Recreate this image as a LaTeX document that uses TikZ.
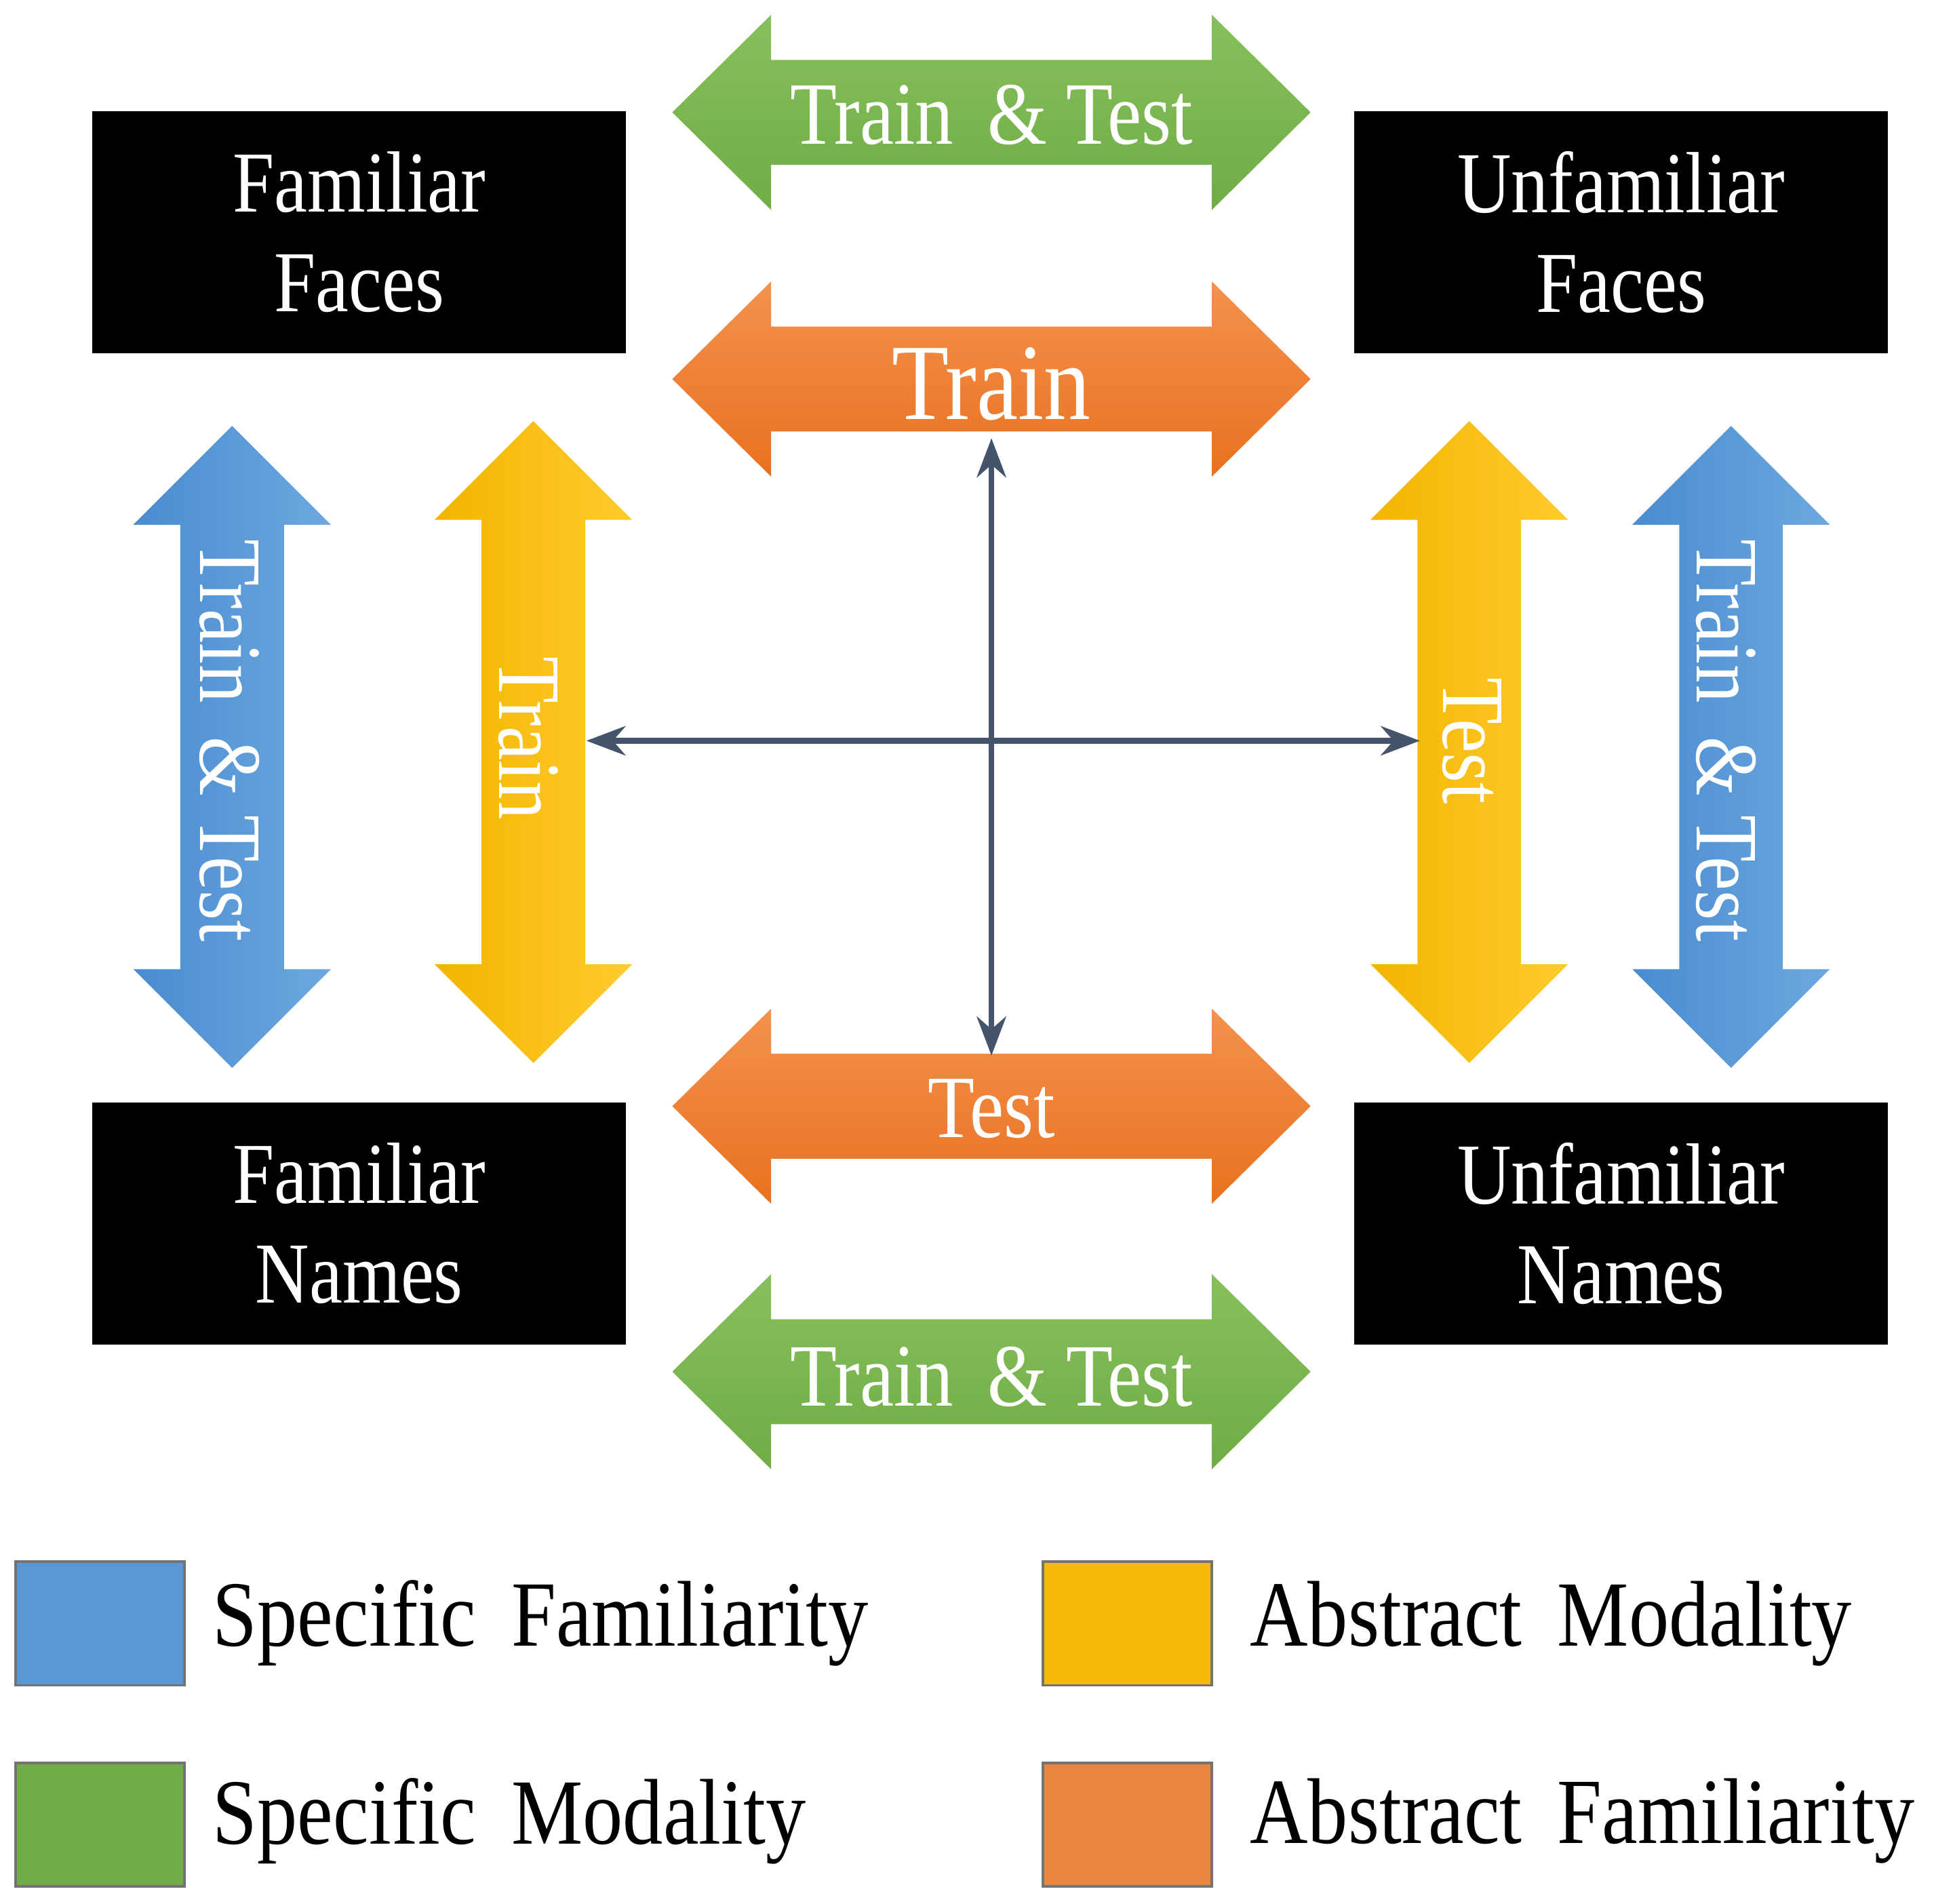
\documentclass[tikz,border=0pt]{standalone}
\usepackage{fontspec}
\setmainfont{Liberation Serif}[FakeStretch=0.86]
\usetikzlibrary{arrows.meta}
\definecolor{gA}{HTML}{70AD47}\definecolor{gB}{HTML}{86C05A}
\definecolor{oA}{HTML}{E8711F}\definecolor{oB}{HTML}{F4924E}
\definecolor{yA}{HTML}{F2B500}\definecolor{yB}{HTML}{FFCB2E}
\definecolor{bA}{HTML}{4A8CD0}\definecolor{bB}{HTML}{6DA8DF}
\definecolor{cross}{HTML}{44546A}
\newcommand\harr[3]{\shade[#3] (#1-258.5,#2) -- ++(80,-79) -- ++(0,36.5) -- ++(357,0) -- ++(0,-36.5) -- ++(80,79) -- ++(-80,79) -- ++(0,-36.5) -- ++(-357,0) -- ++(0,36.5) -- cycle;}
\newcommand\varr[3]{\shade[#3] (#1,#2-260) -- ++(80,80) -- ++(-38,0) -- ++(0,360) -- ++(38,0) -- ++(-80,80) -- ++(-80,-80) -- ++(38,0) -- ++(0,-360) -- ++(-38,0) -- cycle;}
\begin{document}
\begin{tikzpicture}[x=0.01cm,y=-0.01cm,
  box/.style={fill=black,text=white,minimum width=4.32cm,minimum height=1.96cm,align=center,font=\fontsize{20}{23}\selectfont},
  lab/.style={text=white,font=\fontsize{20.5}{24}\selectfont},
  leg/.style={draw=black!55,line width=0.6pt,minimum width=1.37cm,minimum height=1cm},
  legt/.style={anchor=west,font=\fontsize{21.5}{26}\selectfont}]
\useasboundingbox (0,0) rectangle (1568,1542);
\node[box] (ff) at (291,188) {Familiar\\Faces};
\node[box] (uf) at (1313,188) {Unfamiliar\\Faces};
\node[box] (fn) at (291,991) {Familiar\\Names};
\node[box] (un) at (1313,991) {Unfamiliar\\Names};
\harr{803}{91}{top color=gB,bottom color=gA}
\harr{803}{307}{top color=oB,bottom color=oA}
\harr{803}{896}{top color=oB,bottom color=oA}
\harr{803}{1111}{top color=gB,bottom color=gA}
\varr{188}{605}{left color=bA,right color=bB}
\varr{432}{601}{left color=yA,right color=yB}
\varr{1190}{601}{left color=yA,right color=yB}
\varr{1402}{605}{left color=bA,right color=bB}
\node[lab] (t1) at (803,93) {Train \,\& Test};
\node[lab,font=\fontsize{25}{28}\selectfont] (t2) at (803,311) {Train};
\node[lab] (t3) at (803,898) {Test};
\node[lab] (t4) at (803,1115) {Train \,\& Test};
\node[lab,rotate=-90] (t5) at (186,600) {Train \,\& Test};
\node[lab,rotate=-90] (t6) at (428,598) {Train};
\node[lab,rotate=-90] (t7) at (1192,600) {Test};
\node[lab,rotate=-90] (t8) at (1398,600) {Train \,\& Test};
\coordinate (ct) at (803,355);\coordinate (cb) at (803,855);
\coordinate (cl) at (475,600);\coordinate (cr) at (1150,600);
\draw[cross,line width=1.3pt,{Stealth[length=9pt]}-{Stealth[length=9pt]}] (ct) -- (cb);
\draw[cross,line width=1.3pt,{Stealth[length=9pt]}-{Stealth[length=9pt]}] (cl) -- (cr);
\node[leg,fill=bA!90!white] (l1) at (81,1315) {};
\node[leg,fill=gA] (l2) at (81,1478) {};
\node[leg,fill=yA!80!yB] (l3) at (913,1315) {};
\node[leg,fill=oA!85!white] (l4) at (913,1478) {};
\node[legt] (lt1) at (160,1315) {Specific \,Familiarity};
\node[legt] (lt2) at (160,1475) {Specific \,Modality};
\node[legt] (lt3) at (1000,1315) {Abstract \,Modality};
\node[legt] (lt4) at (1000,1475) {Abstract \,Familiarity};
\end{tikzpicture}
\end{document}
